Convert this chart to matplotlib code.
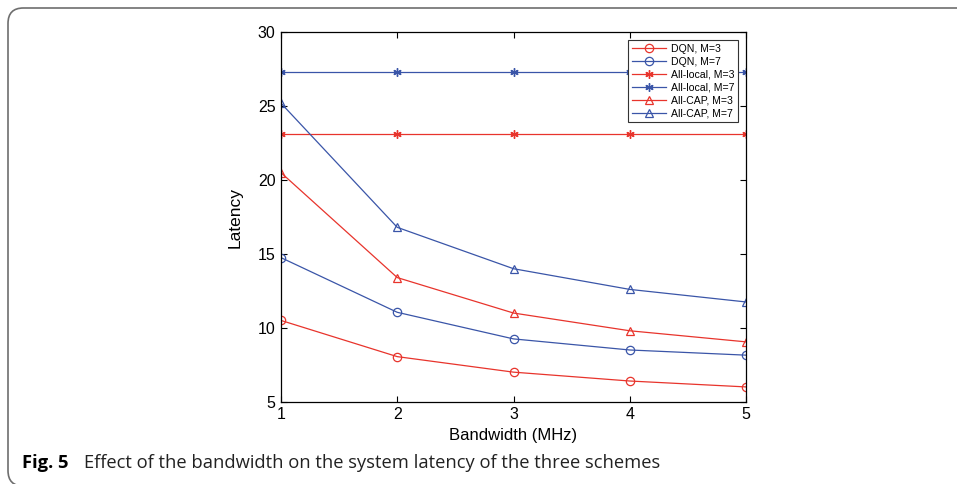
import matplotlib
matplotlib.use("Agg")
import matplotlib.pyplot as plt
from matplotlib.patches import FancyBboxPatch

bandwidth = [1, 2, 3, 4, 5]
dqn_m3 = [10.5, 8.05, 7.0, 6.4, 6.0]
dqn_m7 = [14.75, 11.05, 9.25, 8.5, 8.15]
local_m3 = [23.1, 23.1, 23.1, 23.1, 23.1]
local_m7 = [27.3, 27.3, 27.3, 27.3, 27.3]
cap_m3 = [20.5, 13.4, 11.0, 9.8, 9.05]
cap_m7 = [25.2, 16.8, 14.0, 12.6, 11.75]
labels = ["DQN, M=3", "DQN, M=7", "All-local, M=3", "All-local, M=7",
          "All-CAP, M=3", "All-CAP, M=7"]
xticks = [1, 2, 3, 4, 5]
yticks = [5, 10, 15, 20, 25, 30]

RED = "#e8342c"
BLUE = "#3a55a8"

fig = plt.figure(figsize=(9.57, 4.84), dpi=100)
fig.patch.set_facecolor("white")

# caption frame (bottom edge just below the canvas)
frame = FancyBboxPatch((8 / 957, -2 / 484), 1.2, 1 - 6 / 484,
                       boxstyle="round,pad=0,rounding_size=0.016",
                       transform=fig.transFigure, fill=False,
                       edgecolor="#6e6e6e", linewidth=1.2, mutation_aspect=2.0)
fig.patches.append(frame)

ax = fig.add_axes([281 / 957, (484 - 401.7) / 484, (746 - 281) / 957, (401.7 - 32.3) / 484])

font = "Liberation Sans"
ast = (6, 2, 0)
ax.plot(bandwidth, dqn_m3, color=RED, marker="o", mfc="none", ms=6, lw=0.9, mew=0.9, label=labels[0])
ax.plot(bandwidth, dqn_m7, color=BLUE, marker="o", mfc="none", ms=6, lw=0.9, mew=0.9, label=labels[1])
ax.plot(bandwidth, local_m3, color=RED, marker=ast, ms=6, lw=0.9, mew=1.0, label=labels[2])
ax.plot(bandwidth, local_m7, color=BLUE, marker=ast, ms=6, lw=0.9, mew=1.0, label=labels[3])
ax.plot(bandwidth, cap_m3, color=RED, marker="^", mfc="none", ms=6, lw=0.9, mew=0.9, label=labels[4])
ax.plot(bandwidth, cap_m7, color=BLUE, marker="^", mfc="none", ms=6, lw=0.9, mew=0.9, label=labels[5])

ax.set_xlim(1, 5)
ax.set_ylim(5, 30)
ax.set_xticks(xticks)
ax.set_yticks(yticks)
ax.tick_params(direction="in", top=True, right=True, length=4, width=0.8,
               labelsize=11.5, pad=4)
for lab in ax.get_xticklabels() + ax.get_yticklabels():
    lab.set_family(font)
for sp in ax.spines.values():
    sp.set_linewidth(0.9)
ax.set_xlabel("Bandwidth (MHz)", fontsize=12, family=font, labelpad=4)
ax.set_ylabel("Latency", fontsize=12.5, family=font, labelpad=11)

leg = ax.legend(loc="upper right", bbox_to_anchor=(0.983, 0.979), borderaxespad=0,
                prop={"family": font, "size": 7.6},
                frameon=True, fancybox=False, edgecolor="#333333", framealpha=1,
                handlelength=3.2, borderpad=0.35, labelspacing=0.28, handletextpad=0.5)
leg.get_frame().set_linewidth(0.8)

fig.text(22 / 957, 1 - 463 / 484, "Fig. 5", fontsize=13.2, fontweight="bold",
         family="Open Sans", va="center", ha="left")
fig.text(84 / 957, 1 - 463 / 484, "Effect of the bandwidth on the system latency of the three schemes",
         fontsize=13.2, family="Open Sans", va="center", ha="left", color="#222222")

fig.savefig("out.png", dpi=100)
